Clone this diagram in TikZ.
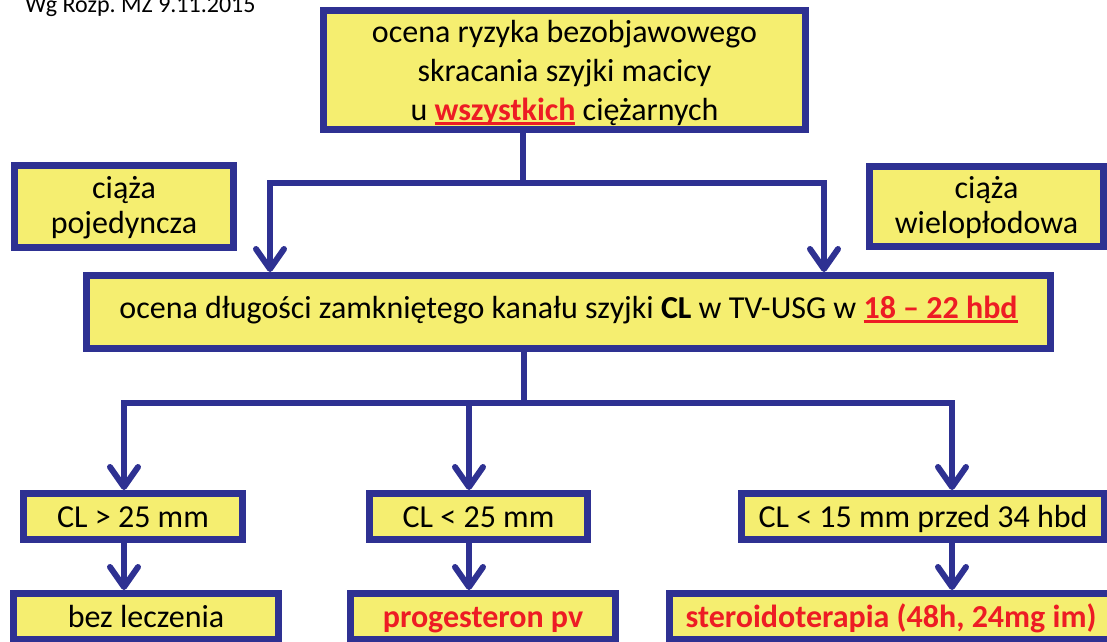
\documentclass[tikz,border=0pt]{standalone}
\usepackage{fontspec}
\setmainfont{Carlito}
\usetikzlibrary{arrows.meta}
\definecolor{flowblue}{RGB}{46,49,146}
\definecolor{boxyellow}{RGB}{245,238,112}
\definecolor{alertred}{RGB}{237,28,36}
% thick underline drawn in the current colour
\newcommand\redul[1]{\setbox0\hbox{#1}\rlap{\rule[-5pt]{\wd0}{2.8pt}}\box0}
\newcommand\alert[1]{{\color{alertred}\bfseries #1}}
\begin{document}
\begin{tikzpicture}[x=1pt,y=-1pt,
  box/.style={draw=flowblue, line width=7pt, fill=boxyellow, inner sep=0pt,
    align=center, text=black, font=\fontsize{32}{35}\selectfont},
  oneline/.style={box, minimum height=46pt, text height=22pt, text depth=1pt},
  twoline/.style={box, text height=56pt, text depth=3pt},
  link/.style={draw=flowblue, line width=6pt},
  arr/.style={link, -{Straight Barb[length=20pt,width=28pt,round]}}]
\useasboundingbox (0,0) rectangle (1107,641);
\clip (0,0) rectangle (1107,641);

% source note
\node[anchor=base west, inner sep=0pt, font=\fontsize{24}{28}\selectfont] (src) at (25,12.5) {Wg Rozp.\ MZ 9.11.2015};

% boxes
\node[box, minimum width=482pt, minimum height=119pt, font=\fontsize{32}{39}\selectfont,
      text height=106pt, text depth=6pt] (top) at (564.5,70)
  {ocena ryzyka bezobjawowego\\skracania szyjki macicy\\u \alert{\redul{wszystkich}} ciężarnych};
\node[twoline, minimum width=219pt, minimum height=82pt] (single) at (124,206.5) {ciąża\\pojedyncza};
\node[twoline, minimum width=234pt, minimum height=80pt] (multi) at (986.5,206.5) {ciąża\\wielopłodowa};
\node[box, minimum width=964pt, minimum height=73pt, text height=20pt, text depth=8pt] (cl) at (568.5,312)
  {ocena długości zamkniętego kanału szyjki \textbf{CL} w TV-USG w \alert{\redul{18 – 22 hbd}}};
\node[oneline, minimum width=219pt] (r1) at (133,516.5) {CL > 25 mm};
\node[oneline, minimum width=218pt] (r2) at (478.5,516.5) {CL < 25 mm};
\node[oneline, minimum width=363pt] (r3) at (923,516.5) {CL < 15 mm przed 34 hbd};
\node[oneline, minimum width=265pt] (t1) at (146,616.5) {bez leczenia};
\node[oneline, minimum width=265pt] (t2) at (483,616.5) {\alert{progesteron pv}};
\node[oneline, minimum width=443pt] (t3) at (891,616.5) {\alert{steroidoterapia (48h, 24mg im)}};

% branch points and arrow columns
\coordinate (j1) at (523,183);
\coordinate (j2) at (524,403);
\coordinate (xl) at (270,0);
\coordinate (xr) at (824,0);
\coordinate (xa) at (124,0);
\coordinate (xb) at (469,0);
\coordinate (xc) at (952,0);

% connectors
\draw[link] (top.south -| j1) -- (j1);
\draw[arr] (j1) -| (xl |- cl.north);
\draw[arr] (j1) -| (xr |- cl.north);

\draw[link] (cl.south -| j2) -- (j2);
\draw[arr] (j2) -| (xa |- r1.north);
\draw[arr] (j2) -| (xc |- r3.north);
\draw[arr] (xb |- j2) -- (xb |- r2.north);

\draw[arr] (r1.south -| xa) -- (xa |- t1.north);
\draw[arr] (r2.south -| xb) -- (xb |- t2.north);
\draw[arr] (r3.south -| xc) -- (xc |- t3.north);
\end{tikzpicture}
\end{document}
